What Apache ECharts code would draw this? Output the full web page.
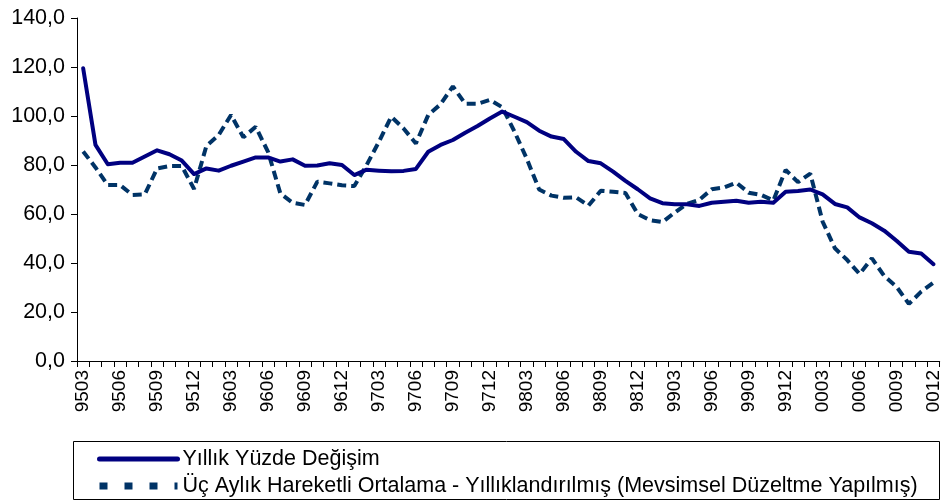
<!DOCTYPE html>
<html>
<head>
<meta charset="utf-8">
<script src="https://cdn.jsdelivr.net/npm/echarts@6/dist/echarts.min.js"></script>
<style>
html,body{margin:0;padding:0;background:#fff;}
#chart{width:943px;height:502px;}
</style>
</head>
<body>
<div id="chart"></div>
<script>
// Categories: monthly, YYMM from 9503 to 0012
const categories = [
  '9503','9504','9505','9506','9507','9508','9509','9510','9511','9512',
  '9601','9602','9603','9604','9605','9606','9607','9608','9609','9610','9611','9612',
  '9701','9702','9703','9704','9705','9706','9707','9708','9709','9710','9711','9712',
  '9801','9802','9803','9804','9805','9806','9807','9808','9809','9810','9811','9812',
  '9901','9902','9903','9904','9905','9906','9907','9908','9909','9910','9911','9912',
  '0001','0002','0003','0004','0005','0006','0007','0008','0009','0010','0011','0012'
];

const seriesNames = [
  'Yıllık Yüzde Değişim',
  'Üç Aylık Hareketli Ortalama - Yıllıklandırılmış (Mevsimsel Düzeltme Yapılmış)'
];

const annualChange = [
  119.5, 88.2, 80.3, 80.9, 80.9, 83.5, 86.0, 84.4, 81.8, 76.3,
  78.6, 77.7, 79.7, 81.4, 83.1, 83.1, 81.4, 82.3, 79.7, 79.8, 80.7, 80.0,
  75.9, 78.1, 77.7, 77.4, 77.6, 78.4, 85.4, 88.2, 90.2, 93.2, 95.9, 99.0,
  101.8, 99.7, 97.5, 94.0, 91.6, 90.6, 85.4, 81.6, 80.7, 77.3, 73.5, 70.1,
  66.4, 64.4, 64.0, 64.0, 63.3, 64.6, 65.0, 65.4, 64.6, 65.0, 64.6, 69.1,
  69.4, 70.0, 68.0, 64.1, 62.7, 58.6, 56.2, 53.2, 49.1, 44.6, 43.9, 39.5
];

const movingAvg3m = [
  85.5, 79.0, 71.8, 71.8, 67.8, 68.0, 78.6, 79.6, 79.6, 70.2,
  87.8, 92.3, 100.4, 91.3, 95.6, 85.4, 68.4, 64.6, 63.7, 73.2, 72.5, 71.7,
  71.4, 80.0, 89.5, 99.7, 94.9, 88.8, 100.4, 104.8, 112.1, 105.0, 105.0, 106.6,
  103.6, 93.6, 82.5, 70.0, 67.5, 66.6, 66.8, 63.4, 69.5, 69.1, 68.6, 60.0,
  57.5, 56.7, 60.6, 64.2, 65.8, 70.1, 70.8, 72.8, 68.7, 67.8, 65.5, 78.0,
  73.0, 76.5, 56.9, 46.0, 41.2, 35.5, 41.9, 34.7, 30.3, 23.3, 28.3, 32.0
];

const yTicks = { min: 0, max: 140, interval: 20 };

const FONT = '"Liberation Sans", Arial, sans-serif';
const chart = echarts.init(document.getElementById('chart'), null, { renderer: 'canvas' });

chart.setOption({
  animation: false,
  backgroundColor: '#ffffff',
  textStyle: { fontFamily: FONT, color: '#000' },
  grid: { left: 77, right: 0, top: 18, bottom: 141, containLabel: false },
  graphic: [{
    type: 'rect',
    shape: { x: 73.5, y: 441.5, width: 866, height: 58 },
    style: { fill: 'none', stroke: '#000', lineWidth: 1 },
    z: 0
  }],
  legend: {
    orient: 'vertical',
    left: 96,
    top: 448,
    itemWidth: 78,
    itemHeight: 14,
    itemGap: 5,
    padding: 0,
    itemStyle: { opacity: 0 },
    textStyle: { fontFamily: FONT, fontSize: 21.5, color: '#000' },
    data: [
      { name: seriesNames[0], lineStyle: { color: '#000080', width: 5, type: 'solid' } },
      { name: seriesNames[1], lineStyle: { color: '#003366', width: 7, type: [8, 17] } }
    ]
  },
  xAxis: {
    type: 'category',
    data: categories,
    boundaryGap: true,
    axisLine: { show: true, lineStyle: { color: '#000', width: 1 } },
    axisTick: { show: true, interval: 0, length: 6, lineStyle: { color: '#000' } },
    axisLabel: {
      interval: 2,
      rotate: 90,
      margin: 9,
      fontFamily: FONT,
      fontSize: 19,
      color: '#000'
    },
    splitLine: { show: false }
  },
  yAxis: {
    type: 'value',
    min: yTicks.min,
    max: yTicks.max,
    interval: yTicks.interval,
    axisLine: { show: true, lineStyle: { color: '#000', width: 1 } },
    axisTick: { show: true, length: 6, lineStyle: { color: '#000' } },
    axisLabel: {
      margin: 12,
      fontFamily: FONT,
      fontSize: 21.5,
      color: '#000',
      formatter: v => v.toFixed(1).replace('.', ',')
    },
    splitLine: { show: false }
  },
  series: [
    {
      name: seriesNames[0],
      type: 'line',
      data: annualChange,
      symbol: 'none',
      smooth: false,
      lineStyle: { color: '#000080', width: 4, cap: 'round', join: 'round' },
      itemStyle: { color: '#000080' },
      z: 3
    },
    {
      name: seriesNames[1],
      type: 'line',
      data: movingAvg3m,
      symbol: 'none',
      smooth: false,
      lineStyle: { color: '#003366', width: 4, type: [9, 5] },
      itemStyle: { color: '#003366' },
      z: 2
    }
  ]
});
</script>
</body>
</html>
